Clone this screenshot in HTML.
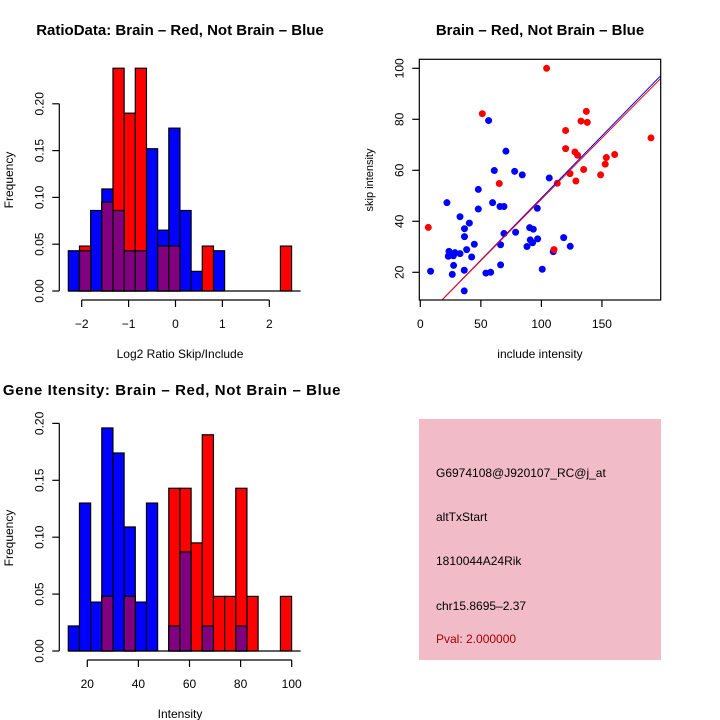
<!DOCTYPE html>
<html><head><meta charset="utf-8"><style>
body{margin:0;background:#fff}
svg{display:block;font-family:"Liberation Sans",Helvetica,sans-serif}
</style></head><body>
<svg id="s" width="720" height="720" viewBox="0 0 720 720">
<rect x="0" y="0" width="720" height="720" fill="#fff"/>
<text x="180" y="35" text-anchor="middle" font-size="15" font-weight="bold">RatioData: Brain – Red, Not Brain – Blue</text>
<text x="540" y="35" text-anchor="middle" font-size="15" font-weight="bold">Brain – Red, Not Brain – Blue</text>
<text x="172" y="395" text-anchor="middle" font-size="15" font-weight="bold" letter-spacing="0.6">Gene Itensity: Brain – Red, Not Brain – Blue</text>
<text x="180" y="358" text-anchor="middle" font-size="12">Log2 Ratio Skip/Include</text>
<text x="180" y="718" text-anchor="middle" font-size="12">Intensity</text>
<text x="540" y="358" text-anchor="middle" font-size="12">include intensity</text>
<text transform="translate(13,180) rotate(-90)" text-anchor="middle" font-size="12">Frequency</text>
<text transform="translate(13,538) rotate(-90)" text-anchor="middle" font-size="12">Frequency</text>
<text transform="translate(373,180) rotate(-90)" text-anchor="middle" font-size="11">skip intensity</text>
<g>
<rect x="419" y="419" width="242" height="241" fill="#f1bcc8"/>
<text x="436" y="477" font-size="12">G6974108@J920107_RC@j_at</text>
<text x="436" y="521" font-size="12">altTxStart</text>
<text x="436" y="565" font-size="12">1810044A24Rik</text>
<text x="436" y="610" font-size="12">chr15.8695–2.37</text>
<text x="436" y="643" font-size="12" fill="#a00000">Pval: 2.000000</text>
</g>
</svg>
<script>
// ---- data ----
const ratioBinStart = -2.285, ratioBinWidth = 0.238;
const ratioBlue = [0.043,0.043,0.086,0.109,0.086,0.043,0.043,0.152,0.065,0.174,0.086,0.021,0,0.043,0,0,0,0,0,0];
const ratioRed  = [0,0.048,0,0.095,0.238,0.190,0.238,0,0.048,0.048,0,0,0.048,0,0,0,0,0,0,0.048];
const ratioXTicks = [-2,-1,0,1,2];
const ratioYTicks = [0,0.05,0.10,0.15,0.20];
const ratioYLabels = ["0.00","0.05","0.10","0.15","0.20"];

const intBinStart = 12.56, intBinWidth = 4.37;
const intBlue = [0.022,0.130,0.043,0.196,0.174,0.109,0.043,0.130,0,0.022,0.087,0,0.022,0,0,0.022,0,0,0,0];
const intRed  = [0,0,0,0.048,0,0.048,0,0,0,0.143,0.143,0.095,0.190,0.048,0.048,0.143,0.048,0,0,0.048];
const intXTicks = [20,40,60,80,100];
const intYTicks = [0,0.05,0.10,0.15,0.20];
const intYLabels = ["0.00","0.05","0.10","0.15","0.20"];

const blueX = [22,56.4,70.7,61.1,77.9,84.2,106.5,47.9,47.9,59.7,65.8,69.1,96.6,32.8,40.5,36.5,69.1,78.7,36.5,44.6,66.3,90.3,93.3,96.9,90.8,92.7,88.1,118.4,123.8,109.8,23.7,23.1,28.6,32.8,27.3,38.3,42.4,27.5,8.5,36.3,26.4,54.2,58.1,66.3,100.7,36.3];
const blueY = [47.3,79.5,67.5,59.9,59.6,58.2,57,52.5,44.8,47.3,45.8,45.8,45.1,41.8,39.3,37.1,35.2,35.7,34,31,30.8,37.5,36.9,33.1,32.7,31.6,30.1,33.6,30.2,28.1,28.2,26.3,27.7,27.3,26.5,28.9,26,22.7,20.4,20.8,19.2,19.7,20,22.9,21.2,12.7];
const redX = [6.6,51.2,104.3,65.2,113.1,110.4,120,120,127.7,129.9,123.6,128.5,134.9,137.1,132.7,137.9,148.9,152.7,153.6,160.5,190.5];
const redY = [37.6,82.2,100,54.8,54.9,28.9,75.6,68.5,67.2,65.9,58.7,55.8,60.3,83.1,79.3,78.8,58.2,62.4,65,66.2,72.7];
const fitBlue = [0.43,0.487];
const fitRed = [0.54,0.481];
const scXTicks = [0,50,100,150];
const scYTicks = [20,40,60,80,100];

const svg = document.getElementById('s');
const NS = 'http://www.w3.org/2000/svg';
function mk(tag, attrs, parent){
  const e = document.createElementNS(NS, tag);
  for (const k in attrs) e.setAttribute(k, attrs[k]);
  (parent||svg).appendChild(e); return e;
}
function txt(x,y,s,size,anchor,rot){
  const t = mk('text',{x:x,y:y,'font-size':size,'text-anchor':anchor||'middle'});
  if(rot) t.setAttribute('transform','rotate(-90 '+x+' '+y+')');
  t.textContent = s; return t;
}

function hist(o){
  const xs = v => o.x0px + (v - o.x0v)*o.xk;
  const ys = v => o.base - v*o.yk;
  const g = mk('g',{});
  
  
  const n = o.blue.length;
  const layers = [['blue',o.blue,'#0000ff'],['red',o.red,'#ff0000']];
  layers.forEach(([nm,arr,col])=>{
    arr.forEach((v,i)=>{
      if(v<=0) return;
      const a = xs(o.bs + i*o.bw), b = xs(o.bs+(i+1)*o.bw);
      const r = mk('rect',{x:a,y:ys(v),width:b-a,height:ys(0)-ys(v),fill:col,stroke:'#000','stroke-width':1.2},g);
      
      
    });
  });
  for(let i=0;i<n;i++){
    const m = Math.min(o.blue[i],o.red[i]);
    if(m<=0) continue;
    const a = xs(o.bs + i*o.bw), b = xs(o.bs+(i+1)*o.bw);
    const r = mk('rect',{x:a,y:ys(m),width:b-a,height:ys(0)-ys(m),fill:'#800080',stroke:'#000','stroke-width':1.2},g);
    
    
  }
  mk('line',{x1:xs(o.bs),x2:xs(o.bs+n*o.bw)+9,y1:ys(0),y2:ys(0),stroke:'#000','stroke-width':1.2},g);
  const ya = mk('g',{},g);
  
  
  const axX = 59.3;
  mk('line',{x1:axX,x2:axX,y1:ys(o.yt[0]),y2:ys(o.yt[o.yt.length-1]),stroke:'#000','stroke-width':1.2},ya);
  o.yt.forEach((v,i)=>{
    mk('line',{x1:axX-7,x2:axX,y1:ys(v),y2:ys(v),stroke:'#000','stroke-width':1.2},ya);
    const t = txt(axX-16,ys(v),o.yl[i],12,'middle',true); ya.appendChild(t);
  });
  const xa = mk('g',{},g);
  
  
  const axY = o.base+9;
  mk('line',{x1:xs(o.xt[0]),x2:xs(o.xt[o.xt.length-1]),y1:axY,y2:axY,stroke:'#000','stroke-width':1.2},xa);
  o.xt.forEach(v=>{
    mk('line',{x1:xs(v),x2:xs(v),y1:axY,y2:axY+7,stroke:'#000','stroke-width':1.2},xa);
    const t = txt(xs(v),axY+28,String(v).replace('-','\u2212'),12); xa.appendChild(t);
  });
}

hist({name:'ratio-hist',blue:ratioBlue,red:ratioRed,bs:ratioBinStart,bw:ratioBinWidth,
  x0v:-2,x0px:81.7,xk:46.9,base:291,yk:936,xt:ratioXTicks,yt:ratioYTicks,yl:ratioYLabels});
hist({name:'intensity-hist',blue:intBlue,red:intRed,bs:intBinStart,bw:intBinWidth,
  x0v:20,x0px:87.3,xk:2.555,base:651,yk:1138,xt:intXTicks,yt:intYTicks,yl:intYLabels});

(function(){
  const L=419.3,R=660.7,T=59.3,B=300;
  const sx = v => 420.3 + v*1.211;
  const sy = v => 272.3 - (v-20)*2.55;
  const ix = p => (p-420.3)/1.211;
  const g = mk('g',{});
  
  
  const defs = mk('defs',{},g);
  const cp = mk('clipPath',{id:'clipsc'},defs);
  mk('rect',{x:L,y:T,width:R-L,height:B-T},cp);
  const pts = mk('g',{'clip-path':'url(#clipsc)'},g);
  blueX.forEach((x,i)=>{
    const c = mk('circle',{cx:sx(x),cy:sy(blueY[i]),r:3.5,fill:'#0000ff'},pts);
    
    
  });
  redX.forEach((x,i)=>{
    const c = mk('circle',{cx:sx(x),cy:sy(redY[i]),r:3.5,fill:'#ff0000'},pts);
    
    
  });
  const x1 = ix(L), x2 = ix(R);
  const ln1 = mk('line',{x1:sx(x1),y1:sy(fitBlue[0]+fitBlue[1]*x1),x2:sx(x2),y2:sy(fitBlue[0]+fitBlue[1]*x2),stroke:'#0000ff','stroke-width':1},pts);
  
  
  const ln2 = mk('line',{x1:sx(x1),y1:sy(fitRed[0]+fitRed[1]*x1),x2:sx(x2),y2:sy(fitRed[0]+fitRed[1]*x2),stroke:'#ff0000','stroke-width':1},pts);
  
  
  const box = mk('rect',{x:L,y:T,width:R-L,height:B-T,fill:'none',stroke:'#000','stroke-width':1.2},g);
  
  
  const xa = mk('g',{},g);
  
  
  scXTicks.forEach(v=>{
    mk('line',{x1:sx(v),x2:sx(v),y1:B,y2:B+7,stroke:'#000','stroke-width':1.2},xa);
    xa.appendChild(txt(sx(v),B+28,String(v),12));
  });
  const ya = mk('g',{},g);
  
  
  scYTicks.forEach(v=>{
    mk('line',{x1:L-7,x2:L,y1:sy(v),y2:sy(v),stroke:'#000','stroke-width':1.2},ya);
    ya.appendChild(txt(L-16,sy(v),String(v),12,'middle',true));
  });
})();
</script>
</body></html>
